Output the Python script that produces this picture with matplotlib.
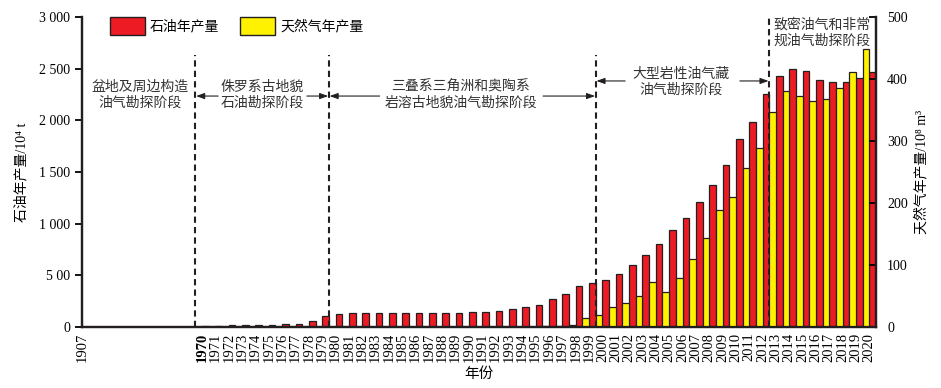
import numpy as np
import matplotlib.pyplot as plt
from matplotlib.patches import Patch

plt.rcParams['font.family'] = ['Liberation Serif', 'Noto Sans CJK SC', 'DejaVu Sans']

years = list(range(1970, 2021))
oil = [10, 10, 16, 16, 16, 16, 26, 29, 58, 103,
       123, 135, 135, 135, 135, 135, 135, 135, 135, 135,
       145, 145, 155, 174, 194, 213, 271, 322, 397, 426,
       455, 513, 600, 697, 800, 939, 1052, 1210, 1374, 1568,
       1816, 1987, 2252, 2426, 2497, 2477, 2387, 2368, 2368, 2406,
       2465]
gas = [0] * 26 + [1.6, 1.6, 3.2, 14.5,
                  19, 32, 38, 50, 72, 56, 78.5, 109, 143, 189,
                  209, 256, 288, 346, 380, 373, 364, 367, 385, 411,
                  448]

tick_labels = ['1907'] + [str(y) for y in years]
oil_ticks = [3000, 2500, 2000, 1500, 1000, 500, 0]
oil_tick_labels = ['3 000', '2 500', '2 000', '1 500', '1 000', '5 00', '0']
gas_ticks = [0, 100, 200, 300, 400, 500]

RED = '#ED1C24'
YELLOW = '#FFF200'
EDGE = '#231F20'

# 1907 sits at the left edge, 1970 starts after a gap of 9 slots
x_pos = np.arange(len(years)) + 9
x_all = np.concatenate([[0], x_pos])

fig = plt.figure(figsize=(9.41, 3.88), dpi=100)
ax = fig.add_axes([82 / 941, 1 - 327 / 388, 794 / 941, 310 / 388])
ax2 = ax.twinx()

ax.bar(x_pos, oil, width=0.5, align='edge', color=RED, edgecolor=EDGE, linewidth=0.9)
gas_arr = np.array(gas, dtype=float)
mask = gas_arr > 0
ax2.bar(x_pos[mask] - 0.5, gas_arr[mask], width=0.5, align='edge',
        color=YELLOW, edgecolor=EDGE, linewidth=0.9)

ax.set_xlim(0, 59.5)
ax.set_ylim(0, 3000)
ax2.set_ylim(0, 500)

ax.set_xticks(x_all)
ax.set_xticklabels(tick_labels, rotation=90, fontsize=10.5)
ax.get_xticklabels()[1].set_fontweight('bold')
ax.tick_params(axis='x', length=0, pad=4)

ax.set_yticks(oil_ticks)
ax.set_yticklabels(oil_tick_labels, fontsize=10)
ax.tick_params(axis='y', direction='out', length=5, width=1.3)
ax2.set_yticks(gas_ticks)
ax2.tick_params(axis='y', direction='in', length=5, width=1.3, labelsize=10, pad=8)

for a in (ax, ax2):
    a.spines['top'].set_visible(False)
    for s in ('left', 'right', 'bottom'):
        a.spines[s].set_linewidth(1.6)
        a.spines[s].set_color(EDGE)

ax.set_ylabel('石油年产量/10⁴ t', fontsize=10, labelpad=8)
ax2.set_ylabel('天然气年产量/10⁸ m³', fontsize=10, labelpad=5, rotation=90)
ax.set_xlabel('年份', fontsize=10.5, labelpad=4)

# stage boundaries
for xb, ytop in [(8.5, 2632), (18.5, 2632), (38.5, 2632), (51.5, 3000)]:
    ax.plot([xb, xb], [0, ytop], ls=(0, (3, 2)), color=EDGE, lw=1.5, zorder=5)

txt = dict(ha='center', va='center', fontsize=10, color='#333333', linespacing=1.25)
ax.text(4.35, 2245, '盆地及周边构造\n油气勘探阶段', **txt)
ax.text(13.5, 2245, '侏罗系古地貌\n石油勘探阶段', **txt)
ax.text(28.4, 2245, '三叠系三角洲和奥陶系\n岩溶古地貌油气勘探阶段', **txt)
ax.text(44.9, 2371, '大型岩性油气藏\n油气勘探阶段', **txt)
ax.text(55.45, 2845, '致密油气和非常\n规油气勘探阶段', **txt)

arrow = dict(arrowstyle='-|>,head_length=0.5,head_width=0.18', color=EDGE, lw=0.8,
             shrinkA=0, shrinkB=0)
for x0, x1, yy in [(10.2, 8.55, 2235), (16.85, 18.45, 2235),
                   (22.3, 18.55, 2235), (34.55, 38.45, 2235),
                   (40.7, 38.55, 2381), (49.3, 51.45, 2381)]:
    ax.annotate('', xy=(x1, yy), xytext=(x0, yy), arrowprops=arrow, zorder=6)

handles = [Patch(facecolor=RED, edgecolor=EDGE, linewidth=1),
           Patch(facecolor=YELLOW, edgecolor=EDGE, linewidth=1)]
ax2.legend(handles, ['石油年产量', '天然气年产量'], ncol=2, frameon=False,
           loc='upper left', bbox_to_anchor=(0.035, 1.0), borderaxespad=0,
           borderpad=0, handlelength=2.5, handleheight=1.6, handletextpad=0.4,
           columnspacing=1.5, fontsize=10)

fig.savefig('out.png', dpi=100)
